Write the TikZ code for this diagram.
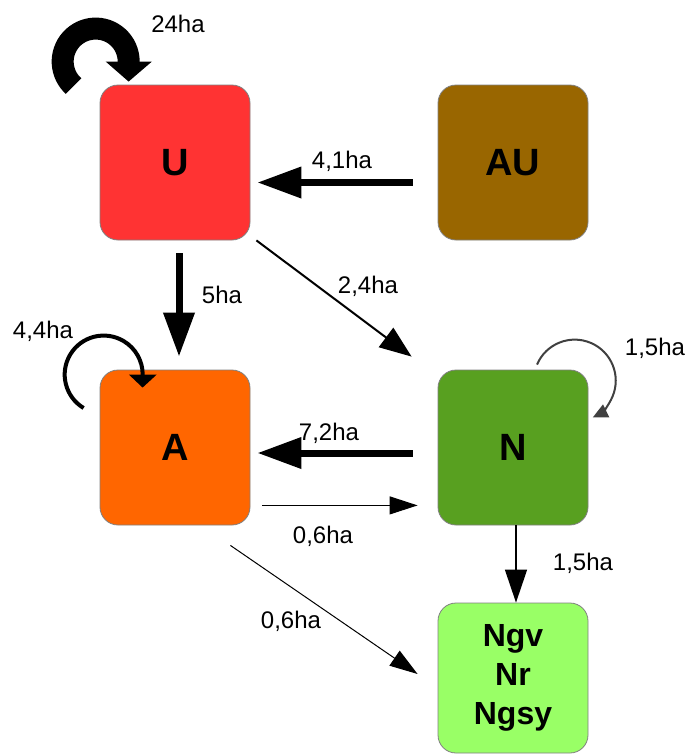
\documentclass[tikz,border=0pt]{standalone}
\usepackage{fontspec}
\setmainfont{Liberation Sans}
\usetikzlibrary{arrows.meta}
\definecolor{ucol}{HTML}{FF3333}
\definecolor{aucol}{HTML}{996600}
\definecolor{acol}{HTML}{FF6600}
\definecolor{ncol}{HTML}{58A020}
\definecolor{ngcol}{HTML}{99FF66}
\begin{document}
\begin{tikzpicture}[x=1pt, y=1pt,
  landbox/.style={draw=black!50, line width=0.8pt, rounded corners=18pt, minimum width=150pt, minimum height=155pt, inner sep=0pt, font=\fontsize{38}{40}\selectfont\bfseries},
  flowlabel/.style={anchor=base, inner sep=0pt, font=\fontsize{24}{26}\selectfont},
  bigflow/.style={line width=7pt, -{Triangle[length=44pt,width=30pt]}},
  midflow/.style={line width=2pt, -{Triangle[length=32pt,width=24pt]}},
  thinflow/.style={line width=1pt, -{Triangle[length=28pt,width=18pt]}}]
\useasboundingbox (0,0) rectangle (691,-755);

\node[landbox, fill=ucol] (U) at (175,-162.5) {U};
\node[landbox, fill=aucol] (AU) at (513,-162.5) {AU};
\node[landbox, fill=acol] (A) at (175,-447.5) {A};
\node[landbox, fill=ncol] (N) at (513,-447.5) {N};
\node[landbox, fill=ngcol, minimum height=150pt, align=center, font=\fontsize{32}{39}\selectfont\bfseries] (Ngv) at (513,-678) {Ngv\\Nr\\Ngsy};

% flows between classes
\draw[bigflow] ([shift={(-25,-20)}]AU.west) -- ([shift={(7,-20)}]U.east);
\draw[bigflow] ([shift={(4,-13)}]U.south) -- ([shift={(4,13)}]A.north);
\draw[bigflow] ([shift={(-25,-5.5)}]N.west) -- ([shift={(7,-5.5)}]A.east);
\draw[midflow] ([shift={(6,0)}]U.south east) -- ([shift={(-26,13)}]N.north west);
\draw[thinflow] ([shift={(12,20)}]A.south east) -- ([shift={(-20,20)}]N.south west);
\draw[thinflow] ([shift={(-20,-20)}]A.south east) -- ([shift={(-20,4)}]Ngv.west);
\draw[line width=1.5pt, -{Triangle[length=33pt,width=22pt]}] ([xshift=3]N.south) -- ([xshift=3]Ngv.north);

% unchanged areas
\coordinate (Uloop) at ([shift={(-26,-1.5)}]U.north west);
\draw[line width=22pt, -{Triangle[length=20pt,width=45pt]}] (Uloop) arc[start angle=228, end angle=0, radius=33pt] -- ([shift={(29,3)}]U.north west);
\coordinate (Aloop) at ([shift={(-16,-38.4)}]A.north west);
\draw[line width=4pt, -{Triangle[length=13pt,width=27pt]}] (Aloop) arc[start angle=239, end angle=0, radius=39pt] -- ([shift={(43,-18)}]A.north west);
\coordinate (Nloop) at ([shift={(24,5)}]N.north);
\draw[line width=2pt, draw=black!75, -{Triangle[length=15pt,width=14pt]}] (Nloop) arc[start angle=157, end angle=-64, radius=41pt];

\node[flowlabel] (l41) at (342,-168) {4,1ha};
\node[flowlabel] (l5) at (222,-303) {5ha};
\node[flowlabel] (l24d) at (368,-293) {2,4ha};
\node[flowlabel] (l72) at (329,-440) {7,2ha};
\node[flowlabel] (l06a) at (323,-543) {0,6ha};
\node[flowlabel] (l06b) at (291,-628) {0,6ha};
\node[flowlabel] (l15b) at (583,-570) {1,5ha};
\node[flowlabel] (l15a) at (655,-355) {1,5ha};
\node[flowlabel] (l24) at (178,-32) {24ha};
\node[flowlabel] (l44) at (43,-338) {4,4ha};
\end{tikzpicture}
\end{document}
